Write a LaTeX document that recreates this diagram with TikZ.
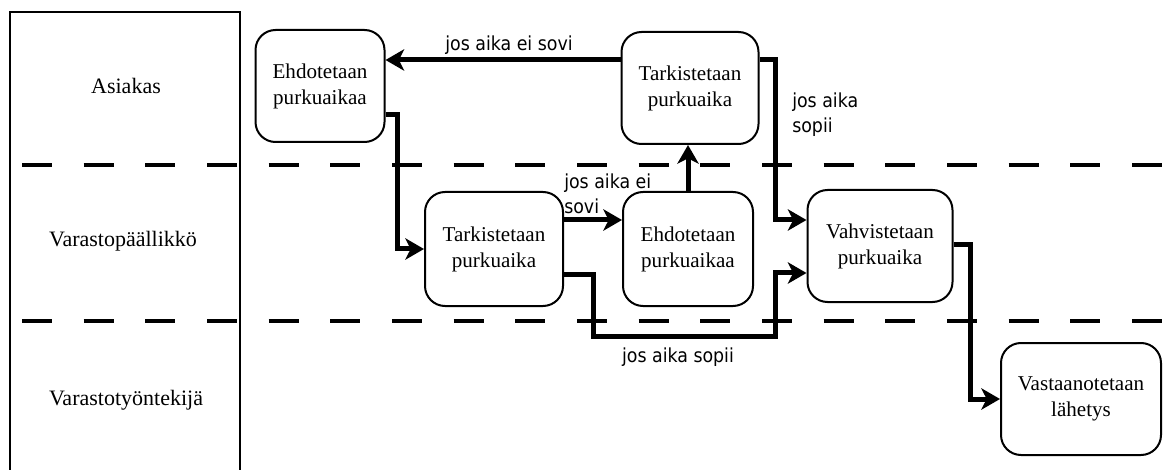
\documentclass[tikz,border=0pt]{standalone}
\usepackage{fontspec}
\setmainfont{Liberation Serif}
\newfontfamily\condfont{DejaVu Sans Condensed}
\usetikzlibrary{arrows.meta}

\tikzset{
	task/.style = {draw, line width=1.5pt, rounded corners=15pt, align=center,
		minimum height=84pt, inner sep=2pt, font=\fontsize{15.8}{19.5}\selectfont},
	lane/.style = {font=\fontsize{16.5}{19.5}\selectfont},
	flow/.style = {line width=3.75pt, -{Stealth[length=14pt, width=16pt, inset=4pt]}},
	cond/.style = {font=\condfont\fontsize{14.5}{19}\selectfont, align=left, inner sep=0pt},
	swim/.style = {line width=3pt, dash pattern=on 22.5pt off 23.75pt},
}

\begin{document}
\begin{tikzpicture}[x=0.75pt, y=-0.75pt]
\useasboundingbox (0,0) rectangle (1163,470);
% swimlanes
\draw [line width=2pt] (10,470) |- (240,12) -- (240,470);
\draw [swim] (22,165) -- (1163,165);
\draw [swim] (22,321) -- (1163,321);
\node [lane] (asiakas) at (126,86) {Asiakas};
\node [lane] (paallikko) at (123,241) {Varastopäällikkö};
\node [lane] (tyontekija) at (126,400) {Varastotyöntekijä};

% steps
\node [task, minimum width=96.75pt] (ehdotus1) at (320,86) {Ehdotetaan\\purkuaikaa};
\node [task, minimum width=102.75pt] (tarkistus2) at (690,88) {Tarkistetaan\\purkuaika};
\node [task, minimum width=103.5pt, minimum height=85.5pt] (tarkistus1) at (494,249) {Tarkistetaan\\purkuaika};
\node [task, minimum width=97.5pt, minimum height=85.5pt] (ehdotus2) at (688,249) {Ehdotetaan\\purkuaikaa};
\node [task, minimum width=108.75pt] (vahvistus) at (880,246) {Vahvistetaan\\purkuaika};
\node [task, minimum width=120pt] (vastaanotto) at (1081,399) {Vastaanotetaan\\lähetys};

% flows
\draw [flow] (tarkistus2.west |- 0,60) -- (ehdotus1.east |- 0,60);
\draw [flow] (ehdotus1.east |- 0,115) -- (397,115) |- (tarkistus1.west);
\draw [flow] (tarkistus1.east |- 0,220) -- (ehdotus2.west |- 0,220);
\draw [flow] (ehdotus2.north) -- (ehdotus2.north |- tarkistus2.south);
\draw [flow] (tarkistus2.east |- 0,60) -- (775,60) |- (vahvistus.west |- 0,220);
\draw [flow] (tarkistus1.east |- 0,275) -- (593,275) |- (775,336) |- (vahvistus.west |- 0,273);
\draw [flow] (vahvistus.east |- 0,245) -- (970,245) |- (vastaanotto.west);

\node [cond] (eisovi1) at (509,45) {jos aika ei sovi};
\node [cond, anchor=west] (eisovi2) at (564,194) {jos aika ei\\sovi};
\node [cond, anchor=west] (sopii1) at (792,115) {jos aika\\sopii};
\node [cond] (sopii2) at (678,357) {jos aika sopii};
\end{tikzpicture}
\end{document}
